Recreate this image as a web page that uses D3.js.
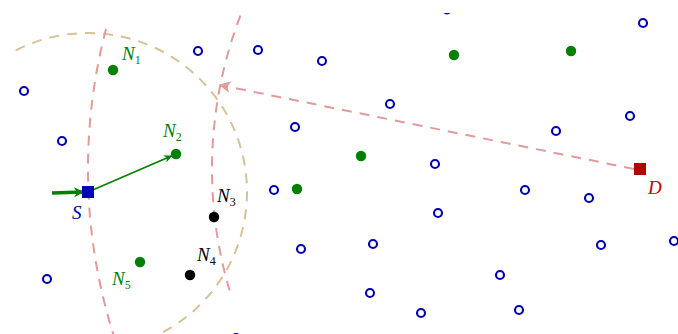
<!DOCTYPE html>
<html><head><meta charset="utf-8">
<script src="https://cdn.jsdelivr.net/npm/d3@7"></script>
<style>html,body{margin:0;padding:0;background:#fff;}svg{display:block;}</style>
</head><body>
<svg id="c" width="678" height="334"></svg>
<script>
// ---- data ----
const otherX = [24, 62, 198, 258, 322, 390, 295, 435, 447, 643, 630, 556, 274, 525, 589, 438, 674, 601, 373, 301, 500, 47, 370, 519, 421, 236];
const otherY = [91, 141, 51, 50, 61, 104, 127, 164, 9.5, 23, 116, 131, 190, 190, 198, 213, 241, 245, 244, 249, 275, 279, 293, 310, 313, 338];
const greenX = [297, 361, 454, 571];
const greenY = [189, 156, 55, 51];
const nbrNames = ["1", "2", "3", "4", "5"];
const nbrX = [113, 176, 214, 190, 140];
const nbrY = [70, 154, 217, 275, 262];
const nbrForward = [true, true, false, false, true];
const srcPt = [88, 192];
const dstPt = [640, 169];
const incomingStart = [52, 193];
const rangeR = 159;         // sender's radio range
const dstArcR = [552, 428]; // distance arcs around D
const dstArrowEnd = [220, 85];

// ---- setup ----
const W = 678, H = 334;
const x = d3.scaleLinear().domain([0, 678]).range([0, W]);
const y = d3.scaleLinear().domain([0, 334]).range([0, H]);
const rs = v => x(v) - x(0);
const svg = d3.select("#c");
const BLUE = "#0000b4", GREEN = "#008000", DRED = "#b30000";
const PINK = "#e39a9a", TAN = "#d8c199";

const defs = svg.append("defs");
defs.append("clipPath").attr("id", "clip").append("rect")
  .attr("x", 12).attr("y", 13).attr("width", W).attr("height", H);
function marker(id, color, w, h) {
  defs.append("marker").attr("id", id).attr("viewBox", "0 0 10 10")
    .attr("refX", 9).attr("refY", 5).attr("markerUnits", "userSpaceOnUse")
    .attr("markerWidth", w).attr("markerHeight", h).attr("orient", "auto")
    .append("path").attr("d", "M0,0 L10,5 L0,10 L3,5 Z").attr("fill", color);
}
marker("mGreen", GREEN, 10, 8);
marker("mGreenBig", GREEN, 10, 10);
marker("mPink", PINK, 16, 12);

const g = svg.append("g").attr("clip-path", "url(#clip)");

// arcs
function arcPath(c, r, a0, a1) {
  const p = d3.path();
  const rad = a => a * Math.PI / 180;
  p.moveTo(x(c[0]) + rs(r) * Math.cos(rad(a0)), y(c[1]) + rs(r) * Math.sin(rad(a0)));
  p.arc(x(c[0]), y(c[1]), rs(r), rad(a0), rad(a1), false);
  return p.toString();
}
g.append("path").attr("d", arcPath(srcPt, rangeR, -130, 75))
  .attr("fill", "none").attr("stroke", TAN).attr("stroke-width", 2).attr("stroke-dasharray", "10,8");
g.append("path").attr("d", arcPath(dstPt, dstArcR[0], 160, 195.3))
  .attr("fill", "none").attr("stroke", PINK).attr("stroke-width", 2).attr("stroke-dasharray", "10,8");
g.append("path").attr("d", arcPath(dstPt, dstArcR[1], 163.5, 205))
  .attr("fill", "none").attr("stroke", PINK).attr("stroke-width", 2).attr("stroke-dasharray", "10,8");

// D -> arc arrow
g.append("line").attr("x1", x(dstPt[0]) - 6).attr("y1", y(dstPt[1]))
  .attr("x2", x(dstArrowEnd[0])).attr("y2", y(dstArrowEnd[1]))
  .attr("stroke", PINK).attr("stroke-width", 2).attr("stroke-dasharray", "10,8")
  .attr("marker-end", "url(#mPink)");

// other nodes
g.selectAll("circle.o").data(otherX.map((v, i) => [v, otherY[i]])).join("circle")
  .attr("class", "o").attr("cx", d => x(d[0])).attr("cy", d => y(d[1])).attr("r", 4)
  .attr("fill", "#fff").attr("stroke", BLUE).attr("stroke-width", 2.1);
g.selectAll("circle.gr").data(greenX.map((v, i) => [v, greenY[i]])).join("circle")
  .attr("class", "gr").attr("cx", d => x(d[0])).attr("cy", d => y(d[1])).attr("r", 5.2)
  .attr("fill", GREEN);

// arrows
g.append("line").attr("x1", x(incomingStart[0])).attr("y1", y(incomingStart[1]))
  .attr("x2", x(srcPt[0]) - 5).attr("y2", y(srcPt[1]))
  .attr("stroke", GREEN).attr("stroke-width", 3.5).attr("marker-end", "url(#mGreenBig)");
(function () {
  const sx = x(srcPt[0]), sy = y(srcPt[1]), tx = x(nbrX[1]), ty = y(nbrY[1]);
  const L = Math.hypot(tx - sx, ty - sy), k = (L - 5) / L;
  g.append("line").attr("x1", sx).attr("y1", sy).attr("x2", sx + (tx - sx) * k).attr("y2", sy + (ty - sy) * k)
    .attr("stroke", GREEN).attr("stroke-width", 1.6).attr("marker-end", "url(#mGreen)");
})();

// neighbors
const nbr = nbrNames.map((n, i) => ({ n, x: nbrX[i], y: nbrY[i], fwd: nbrForward[i] }));
g.selectAll("circle.nb").data(nbr).join("circle").attr("class", "nb")
  .attr("cx", d => x(d.x)).attr("cy", d => y(d.y)).attr("r", 5.2)
  .attr("fill", d => d.fwd ? GREEN : "#000");

// squares
g.append("rect").attr("x", x(srcPt[0]) - 6).attr("y", y(srcPt[1]) - 6).attr("width", 12).attr("height", 12).attr("fill", BLUE);
g.append("rect").attr("x", x(dstPt[0]) - 6).attr("y", y(dstPt[1]) - 6).attr("width", 12).attr("height", 12).attr("fill", DRED);

// labels
const FONT = "'Liberation Serif', 'DejaVu Serif', serif";
const lblOff = [[9, -10], [-13, -17], [3, -15], [7, -14], [-28, 23]];
nbr.forEach((d, i) => {
  const t = svg.append("text").attr("x", x(d.x) + lblOff[i][0]).attr("y", y(d.y) + lblOff[i][1])
    .attr("font-family", FONT).attr("font-size", 19).attr("fill", d.fwd ? GREEN : "#000");
  t.append("tspan").attr("font-style", "italic").text("N");
  t.append("tspan").attr("font-size", 12).attr("dy", 4).attr("dx", 0).text(d.n);
});
svg.append("text").attr("x", x(srcPt[0]) - 16).attr("y", y(srcPt[1]) + 27)
  .attr("font-family", FONT).attr("font-style", "italic").attr("font-size", 19).attr("fill", BLUE).text("S");
svg.append("text").attr("x", x(dstPt[0]) + 8).attr("y", y(dstPt[1]) + 25)
  .attr("font-family", FONT).attr("font-style", "italic").attr("font-size", 19).attr("fill", "#c00000").text("D");
</script>
</body></html>
